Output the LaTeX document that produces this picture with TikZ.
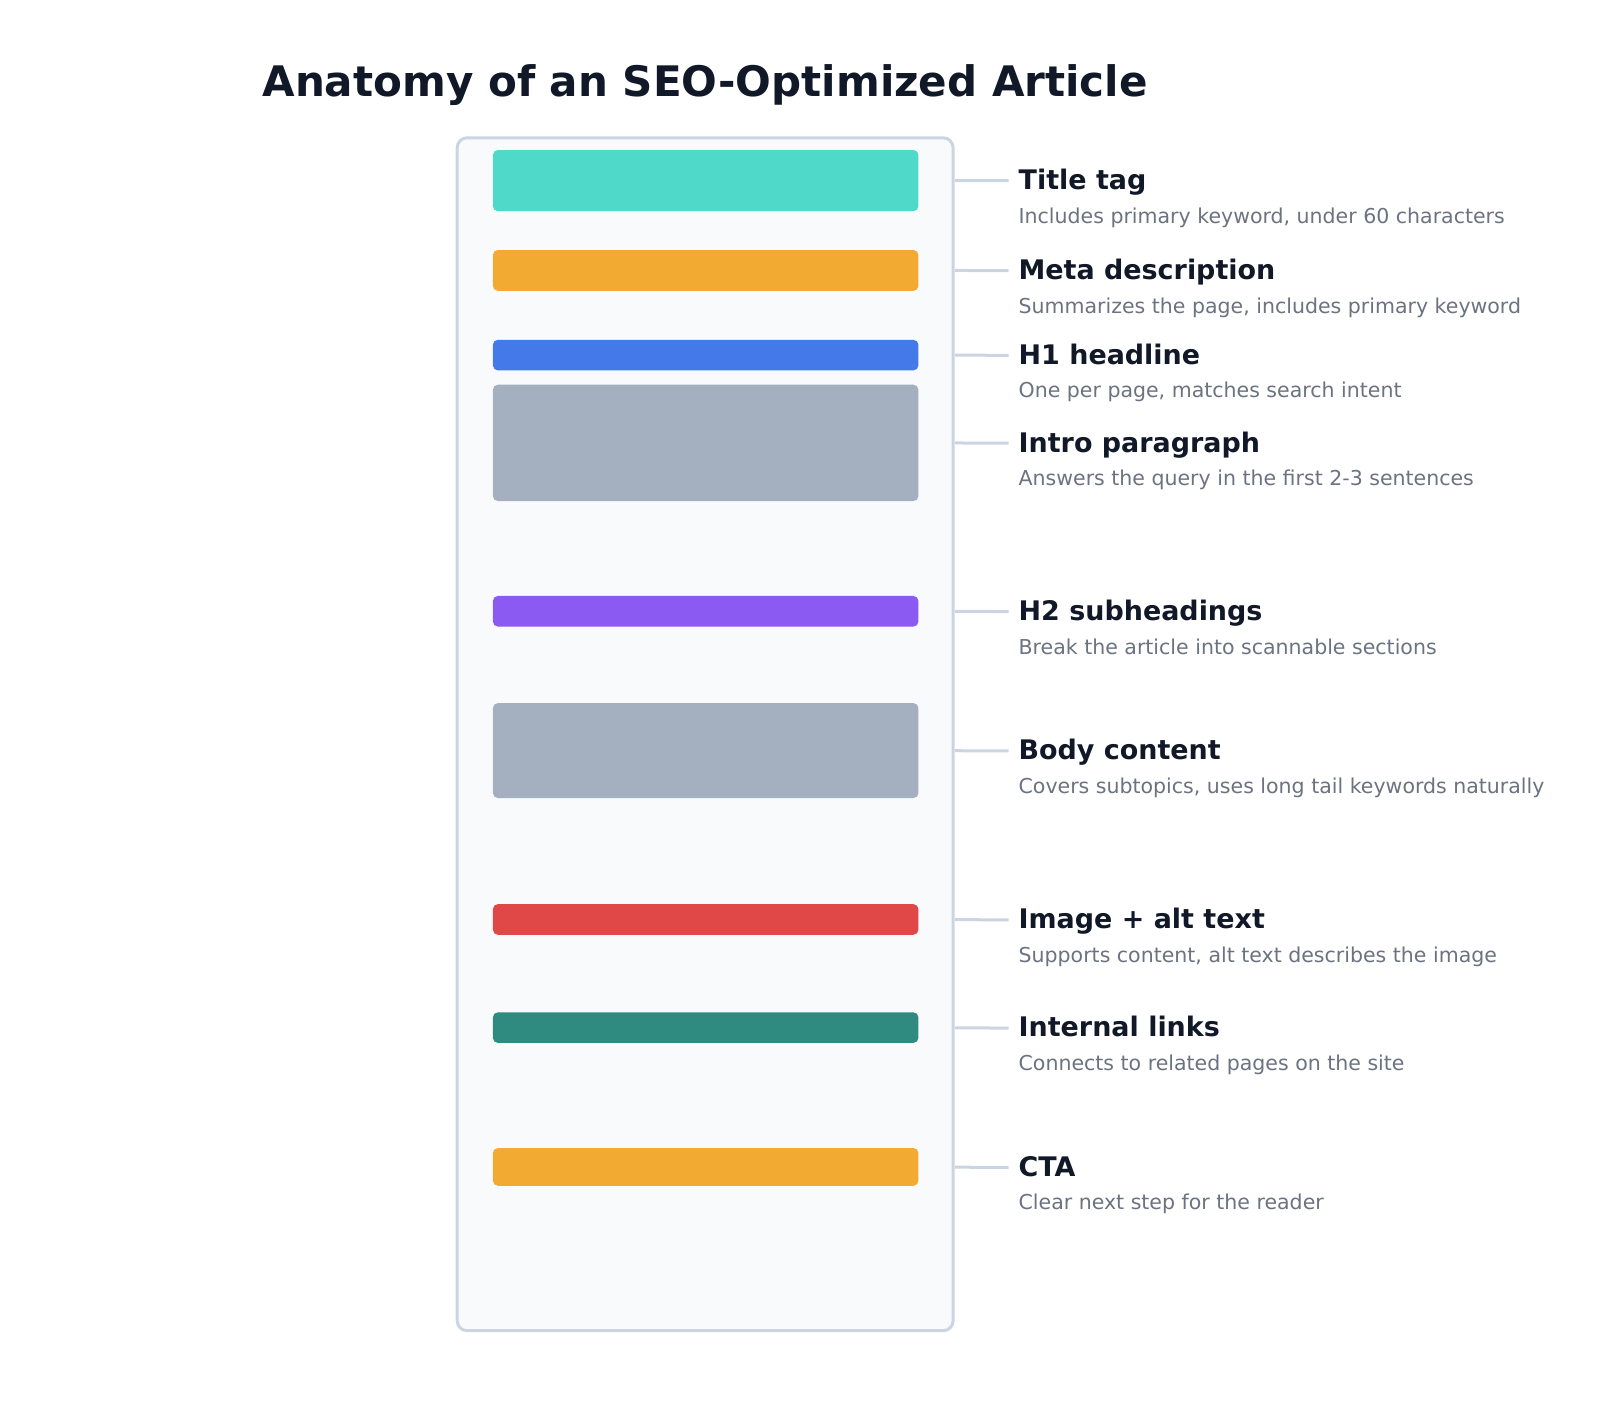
\documentclass[tikz,border=0pt]{standalone}
\usepackage{fontspec}
\setmainfont{DejaVu Sans}
\definecolor{titlec}{HTML}{111827}
\definecolor{descc}{HTML}{6B7280}
\definecolor{framed}{HTML}{CBD5E1}
\definecolor{framef}{HTML}{F8FAFC}
\definecolor{cteal}{HTML}{4FD9C9}
\definecolor{corange}{HTML}{F3AA32}
\definecolor{cblue}{HTML}{4479E9}
\definecolor{cgray}{HTML}{A4B0C0}
\definecolor{cpurple}{HTML}{8B5AF2}
\definecolor{cred}{HTML}{E04747}
\definecolor{cdteal}{HTML}{2F8A7F}
\begin{document}
\begin{tikzpicture}[x=1pt,y=-1pt,scale=1.0205,transform shape,
  bar/.style={draw=none,rounded corners=5pt,minimum width=417pt,inner sep=0pt,outer sep=0pt},
  conn/.style={draw=framed,line width=3pt},
  lbl/.style={anchor=base west,inner sep=0pt,text=titlec,font=\fontsize{26.4}{30}\selectfont\bfseries},
  desc/.style={anchor=base west,inner sep=0pt,text=descc,font=\fontsize{20.1}{24}\selectfont}]
\useasboundingbox (0,0) rectangle (1567.9,1393.4);
\node[anchor=base,inner sep=0pt,text=titlec,font=\fontsize{41.2}{48}\selectfont\bfseries] (title) at (691,95) {Anatomy of an SEO-Optimized Article};
\node[draw=framed,fill=framef,line width=3pt,rounded corners=10pt,minimum width=486pt,minimum height=1169pt,inner sep=0pt] (frame) at (691,719.5) {};
% bars
\node[bar,fill=cteal,minimum height=60pt] (b1) at (691.5,177) {};
\node[bar,fill=corange,minimum height=40pt] (b2) at (691.5,265) {};
\node[bar,fill=cblue,minimum height=30pt] (b3) at (691.5,348) {};
\node[bar,fill=cgray,minimum height=114pt] (b4) at (691.5,434) {};
\node[bar,fill=cpurple,minimum height=30pt] (b5) at (691.5,599) {};
\node[bar,fill=cgray,minimum height=93pt] (b6) at (691.5,735.5) {};
\node[bar,fill=cred,minimum height=30pt] (b7) at (691.5,901) {};
\node[bar,fill=cdteal,minimum height=30pt] (b8) at (691.5,1007) {};
\node[bar,fill=corange,minimum height=37pt] (b9) at (691.5,1143.5) {};
% labels
\foreach \i/\y/\t/\d in {
  1/177/Title tag/{Includes primary keyword, under 60 characters},
  2/265/Meta description/{Summarizes the page, includes primary keyword},
  3/348/H1 headline/{One per page, matches search intent},
  4/434/Intro paragraph/{Answers the query in the first 2-3 sentences},
  5/599/H2 subheadings/{Break the article into scannable sections},
  6/735.5/Body content/{Covers subtopics, uses long tail keywords naturally},
  7/901/Image + alt text/{Supports content, alt text describes the image},
  8/1007/Internal links/{Connects to related pages on the site},
  9/1143.5/CTA/{Clear next step for the reader}}{
  \node[lbl] (l\i) at (998,\y+9) {\t};
  \node[desc] (d\i) at (998,\y+42) {\d};
  \coordinate (c\i) at ([xshift=-10pt]l\i.west |- b\i.east);
  \draw[conn] (frame.east |- b\i.east) -- (c\i);
}
\end{tikzpicture}
\end{document}
